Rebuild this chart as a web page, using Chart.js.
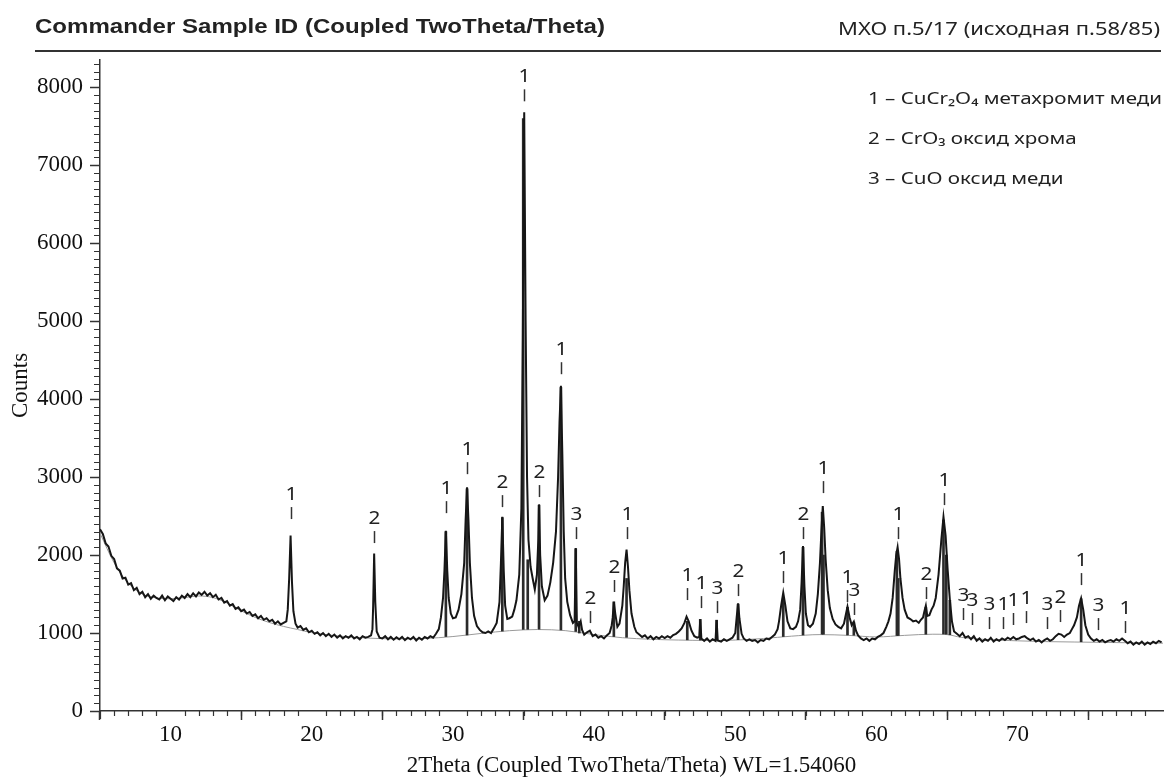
<!DOCTYPE html>
<html>
<head>
<meta charset="utf-8">
<title>XRD pattern</title>
<script src="https://cdn.jsdelivr.net/npm/chart.js@4.4.1/dist/chart.umd.min.js"></script>
<style>
  html, body { margin: 0; padding: 0; background: #fff; }
  canvas { display: block; }
</style>
</head>
<body>
<canvas id="xrdChart" width="1166" height="781"></canvas>
<script>
const scan05to28 = [
  [5.0,2330],[5.2,2270],[5.4,2150],[5.6,2110],[5.8,1990],[6.0,1950],[6.2,1830],[6.4,1800],[6.6,1700],[6.8,1710],
  [7.0,1620],[7.2,1640],[7.4,1550],[7.6,1580],[7.8,1500],[8.0,1530],[8.2,1460],[8.4,1500],[8.6,1440],[8.8,1480],
  [9.0,1450],[9.2,1430],[9.4,1480],[9.6,1420],[9.8,1470],[10.0,1440],[10.2,1410],[10.4,1460],[10.6,1430],[10.8,1480],
  [11.0,1450],[11.2,1500],[11.4,1460],[11.6,1510],[11.8,1470],[12.0,1520],[12.2,1490],[12.4,1530],[12.6,1480],[12.8,1510],
  [13.0,1460],[13.2,1490],[13.4,1430],[13.6,1450],[13.8,1390],[14.0,1410],[14.2,1350],[14.4,1370],[14.6,1310],[14.8,1330],
  [15.0,1280],[15.2,1300],[15.4,1250],[15.6,1270],[15.8,1220],[16.0,1240],[16.2,1190],[16.4,1220],[16.6,1170],[16.8,1190],
  [17.0,1150],[17.2,1170],[17.4,1120],[17.6,1150],[17.8,1110],[18.0,1130],[18.2,1150],[18.3,1300],[18.4,1700],[18.5,2250],
  [18.6,1650],[18.7,1280],[18.85,1120],[19.0,1070],[19.2,1090],[19.4,1040],[19.6,1060],[19.8,1010],[20.0,1030],[20.2,990],
  [20.4,1010],[20.6,970],[20.8,1000],[21.0,960],[21.2,990],[21.4,950],[21.6,980],[21.8,940],[22.0,970],[22.2,930],
  [22.4,960],[22.6,940],[22.8,970],[23.0,930],[23.2,950],[23.4,920],[23.6,960],[23.8,940],[24.0,950],[24.2,970],
  [24.3,1050],[24.35,1350],[24.42,2020],[24.5,1400],[24.6,1020],[24.8,940],[25.0,930],[25.2,960],[25.4,920],[25.6,950],
  [25.8,915],[26.0,945],[26.2,920],[26.4,950],[26.6,910],[26.8,940],[27.0,920],[27.2,950],[27.4,905],[27.6,940],[27.8,915]
];

const scan28to45 = [
  [28.0,950],[28.2,930],[28.4,960],[28.6,940],[28.8,990],[29.0,1050],[29.15,1200],[29.3,1450],[29.4,1800],[29.5,2310],
  [29.6,1800],[29.7,1450],[29.85,1250],[30.0,1190],[30.2,1200],[30.4,1300],[30.6,1500],[30.8,1900],[30.9,2450],[31.0,2870],
  [31.1,2450],[31.2,1900],[31.35,1450],[31.5,1220],[31.7,1090],[31.9,1040],[32.1,1010],[32.3,1000],[32.5,1020],[32.7,1000],
  [32.9,1060],[33.1,1130],[33.3,1400],[33.4,1900],[33.5,2490],[33.6,1800],[33.7,1350],[33.85,1180],[34.0,1190],[34.2,1210],
  [34.35,1300],[34.5,1420],[34.7,1750],[34.85,2600],[34.95,4800],[35.05,7680],[35.15,5000],[35.25,3000],[35.35,2200],[35.5,1850],
  [35.65,1700],[35.8,1560],[35.95,1750],[36.05,2200],[36.1,2650],[36.18,2000],[36.3,1600],[36.5,1420],[36.7,1480],[36.9,1650],
  [37.1,1900],[37.3,2300],[37.45,3000],[37.55,3700],[37.65,4170],[37.75,3300],[37.85,2300],[37.95,1700],[38.1,1400],[38.3,1230],
  [38.5,1130],[38.62,1150],[38.7,2090],[38.78,1130],[38.9,1080],[39.05,1150],[39.15,1040],[39.3,980],[39.5,1010],[39.7,1030],
  [39.9,960],[40.1,980],[40.3,940],[40.5,960],[40.7,930],[40.9,970],[41.1,1000],[41.25,1100],[41.32,1200],[41.4,1400],
  [41.5,1250],[41.65,1080],[41.8,1120],[42.0,1350],[42.1,1600],[42.2,1900],[42.3,2070],[42.4,1850],[42.5,1550],[42.65,1250],
  [42.85,1080],[43.0,1010],[43.2,980],[43.4,950],[43.6,970],[43.8,930],[44.0,960],[44.2,920],[44.4,950],[44.6,930],[44.8,960]
];

const scan45to66 = [
  [45.0,935],[45.2,960],[45.4,940],[45.6,975],[45.8,990],[46.0,1020],[46.2,1060],[46.4,1130],[46.55,1210],[46.7,1150],
  [46.9,1030],[47.1,960],[47.3,940],[47.45,950],[47.52,1175],[47.6,930],[47.8,900],[48.0,930],[48.2,890],[48.4,920],
  [48.6,900],[48.68,1167],[48.76,905],[49.0,890],[49.2,920],[49.4,900],[49.6,920],[49.8,940],[50.0,1000],[50.1,1200],
  [50.2,1380],[50.3,1180],[50.45,990],[50.6,930],[50.8,900],[51.0,920],[51.2,900],[51.4,910],[51.6,880],[51.8,910],
  [52.0,900],[52.2,930],[52.4,920],[52.6,950],[52.8,980],[53.0,1050],[53.1,1150],[53.25,1350],[53.4,1517],[53.55,1350],
  [53.7,1150],[53.9,1060],[54.1,1050],[54.3,1080],[54.45,1150],[54.6,1300],[54.7,1650],[54.8,2115],[54.9,1600],[55.0,1250],
  [55.15,1100],[55.3,1080],[55.5,1120],[55.7,1250],[55.85,1500],[56.0,1900],[56.1,2300],[56.2,2630],[56.3,2350],[56.4,1950],
  [56.55,1550],[56.7,1320],[56.9,1180],[57.1,1110],[57.3,1080],[57.5,1060],[57.7,1120],[57.85,1250],[57.95,1337],[58.1,1200],
  [58.25,1100],[58.4,1145],[58.55,1030],[58.7,970],[58.9,930],[59.1,910],[59.3,930],[59.5,900],[59.7,930],[59.9,920],
  [60.1,950],[60.3,970],[60.5,1000],[60.7,1080],[60.85,1150],[61.0,1250],[61.15,1450],[61.3,1800],[61.4,2000],[61.5,2100],
  [61.6,1950],[61.7,1700],[61.85,1450],[62.0,1300],[62.2,1200],[62.4,1180],[62.6,1150],[62.8,1160],[63.0,1130],[63.15,1170],
  [63.3,1200],[63.4,1280],[63.5,1350],[63.6,1220],[63.75,1230],[63.9,1300],[64.05,1350],[64.2,1450],[64.4,1750],[64.6,2200],
  [64.75,2490],[64.9,2250],[65.05,1800],[65.2,1430],[65.35,1150],[65.5,1020],[65.7,990],[65.9,960]
];

const scan66to80 = [
  [66.1,1000],[66.3,940],[66.5,960],[66.7,920],[66.9,960],[67.1,900],[67.3,930],[67.5,890],[67.7,920],[67.9,900],
  [68.1,940],[68.3,890],[68.5,920],[68.7,900],[68.9,930],[69.1,910],[69.3,940],[69.5,920],[69.7,950],[69.9,920],
  [70.1,930],[70.3,950],[70.5,960],[70.7,930],[70.9,910],[71.1,930],[71.3,890],[71.5,910],[71.7,880],[71.9,910],
  [72.1,930],[72.3,900],[72.5,920],[72.7,960],[72.9,990],[73.1,980],[73.3,950],[73.5,980],[73.7,1000],[73.85,1050],
  [74.0,1100],[74.2,1200],[74.35,1350],[74.5,1445],[74.65,1300],[74.8,1100],[75.0,980],[75.2,930],[75.4,900],[75.6,920],
  [75.8,890],[76.0,910],[76.2,880],[76.4,900],[76.6,910],[76.8,890],[77.0,920],[77.2,900],[77.4,930],[77.6,900],
  [77.8,870],[78.0,890],[78.2,850],[78.4,880],[78.6,860],[78.8,890],[79.0,850],[79.2,880],[79.4,860],[79.6,890],
  [79.8,870],[80.0,900],[80.2,880]
];

// Fitted background (thin grey curve)
const bgAngles = [5, 6, 7, 8, 9, 10, 11, 12, 13, 14, 15, 16, 17, 18, 19, 20, 22, 24, 26, 28, 30, 32, 34, 36, 38, 40,
  42, 44, 46, 48, 50, 52, 54, 56, 58, 60, 62, 64, 65, 66, 68, 70, 72, 74, 76, 78, 80.3];
const bgCounts = [2280, 1900, 1640, 1500, 1450, 1440, 1455, 1475, 1455, 1385, 1285, 1200, 1135, 1085, 1045, 1005, 960,
  935, 925, 930, 955, 995, 1030, 1045, 1030, 980, 940, 920, 910, 905, 910, 930, 960, 980, 970, 950, 970, 985, 980, 945,
  915, 900, 890, 885, 880, 875, 870];

// Peak sticks from the profile fit
const stickAngles = [29.5, 31.0, 33.5, 34.98, 35.3, 36.1, 37.65, 38.7, 38.95, 41.4, 42.3, 46.6, 47.52, 48.68, 50.2,
  53.4, 54.8, 56.15, 56.25, 57.95, 58.4, 61.45, 61.55, 63.5, 64.75, 64.95, 65.2, 74.5];
const stickBases = [955, 975, 1025, 1045, 1048, 1050, 1040, 1020, 1000, 955, 945, 913, 910, 910, 915, 955, 975, 985,
  985, 975, 972, 968, 968, 985, 988, 985, 978, 888];
const stickTops = [2300, 2850, 2480, 7600, 1940, 2640, 4150, 2080, 1150, 1400, 1700, 1150, 1175, 1165, 1370, 1450,
  2100, 2550, 2000, 1330, 1140, 2050, 1700, 1330, 2450, 2000, 1420, 1440];

// Phase labels: position, phase number, height of the marker's lower end
const peakAngles = [18.5, 24.4, 29.54, 31.0, 33.5, 35.07, 36.1, 37.65, 38.7, 39.7, 41.4, 42.3, 46.6, 47.54, 48.7,
  50.2, 53.4, 54.8, 56.2, 57.95, 58.4, 61.5, 63.5, 64.8, 66.1, 66.8, 68.0, 69.0, 69.7, 70.6, 72.1, 73.0, 74.5, 75.7, 77.6];
const peakPhases = ['1', '2', '1', '1', '2', '1', '2', '1', '3', '2', '2', '1', '1', '1', '3',
  '2', '1', '2', '1', '1', '3', '1', '2', '1', '3', '3', '3', '1', '1', '1', '3', '2', '1', '3', '1'];
const peakMarkTops = [2462, 2154, 2538, 3038, 2615, 7820, 2744, 4320, 2205, 1128, 1526, 2205, 1423, 1320, 1256,
  1474, 1641, 2205, 2795, 1397, 1231, 2205, 1436, 2641, 1167, 1103, 1051, 1051, 1103, 1128, 1051, 1141, 1615, 1038, 1000];

const legendLines = [
  '1 – CuCr₂O₄ метахромит меди',
  '2 – CrO₃ оксид хрома',
  '3 – CuO оксид меди'
];

const xTickValues = [10, 20, 30, 40, 50, 60, 70];
const yTickValues = [0, 1000, 2000, 3000, 4000, 5000, 6000, 7000, 8000];

const serif = '"Liberation Serif", "Times New Roman", serif';
const sans = '"Noto Sans", "Open Sans", sans-serif';

const scanPoints = [...scan05to28, ...scan28to45, ...scan45to66, ...scan66to80].map(([x, y]) => ({ x, y }));
const bgPoints = bgAngles.map((x, i) => ({ x, y: bgCounts[i] }));
const stickPoints = stickAngles.map((x, i) => ({ x, y: [stickBases[i], stickTops[i]] }));

// The sans captions in the source are set wider than the fonts we have, so squeeze/stretch to width
function fillStretched(ctx, text, x, y, scaleX, align) {
  ctx.save();
  ctx.translate(x, y);
  ctx.scale(scaleX, 1);
  ctx.textAlign = align;
  ctx.fillText(text, 0, 0);
  ctx.restore();
}

const minorTicks = {
  id: 'minorTicks',
  afterDraw(chart) {
    const { ctx, chartArea, scales: { x, y } } = chart;
    ctx.save();
    ctx.strokeStyle = '#333';
    ctx.lineWidth = 1.2;
    ctx.beginPath();
    for (let v = 5; v <= 80; v += 1) {
      if (v % 10 === 0) continue;
      const px = Math.round(x.getPixelForValue(v)) + 0.5;
      ctx.moveTo(px, chartArea.bottom);
      ctx.lineTo(px, chartArea.bottom + (v === 5 ? 8 : 5));
    }
    for (let v = 100; v <= 8300; v += 100) {
      if (v % 1000 === 0) continue;
      const py = Math.round(y.getPixelForValue(v)) + 0.5;
      ctx.moveTo(chartArea.left, py);
      ctx.lineTo(chartArea.left - 6, py);
    }
    ctx.stroke();
    ctx.restore();
  }
};

const peakMarks = {
  id: 'peakMarks',
  afterDatasetsDraw(chart) {
    const { ctx, scales: { x, y } } = chart;
    ctx.save();
    ctx.strokeStyle = '#333';
    ctx.lineWidth = 1.5;
    ctx.fillStyle = '#222';
    ctx.font = '18px ' + sans;
    ctx.textBaseline = 'alphabetic';
    peakAngles.forEach((angle, i) => {
      const px = Math.round(x.getPixelForValue(angle)) + 0.5;
      const py = y.getPixelForValue(peakMarkTops[i]);
      ctx.beginPath();
      ctx.moveTo(px, py);
      ctx.lineTo(px, py - 12);
      ctx.stroke();
      fillStretched(ctx, peakPhases[i], px, py - 19, 1.15, 'center');
    });
    ctx.restore();
  }
};

const header = {
  id: 'header',
  afterDraw(chart) {
    const { ctx } = chart;
    ctx.save();
    ctx.fillStyle = '#222';
    ctx.textBaseline = 'alphabetic';

    const title = 'Commander Sample ID (Coupled TwoTheta/Theta)';
    ctx.font = 'bold 21px "Liberation Sans", Arial, sans-serif';
    fillStretched(ctx, title, 35, 33, 570 / ctx.measureText(title).width, 'left');

    const sampleNote = 'МХО п.5/17 (исходная п.58/85)';
    ctx.font = '18px ' + sans;
    fillStretched(ctx, sampleNote, 1160, 35, 322 / ctx.measureText(sampleNote).width, 'right');

    ctx.strokeStyle = '#333';
    ctx.lineWidth = 2;
    ctx.beginPath();
    ctx.moveTo(35, 51);
    ctx.lineTo(1161, 51);
    ctx.stroke();

    ctx.font = '17px ' + sans;
    const legendScale = 294 / ctx.measureText(legendLines[0]).width;
    legendLines.forEach((line, i) => {
      fillStretched(ctx, line, 868, 104 + i * 40, legendScale, 'left');
    });
    ctx.restore();
  }
};

new Chart(document.getElementById('xrdChart'), {
  type: 'line',
  data: {
    datasets: [
      {
        label: 'Scan',
        data: scanPoints,
        borderColor: '#161616',
        borderWidth: 2,
        pointRadius: 0,
        tension: 0,
        order: 1
      },
      {
        type: 'bar',
        label: 'Sticks',
        data: stickPoints,
        backgroundColor: '#2a2a2a',
        barThickness: 2,
        grouped: false,
        order: 2
      },
      {
        label: 'Background',
        data: bgPoints,
        borderColor: '#9a9a9a',
        borderWidth: 1,
        pointRadius: 0,
        cubicInterpolationMode: 'monotone',
        order: 3
      }
    ]
  },
  options: {
    responsive: false,
    devicePixelRatio: 1,
    animation: false,
    layout: { padding: { left: 0, top: 60, right: 3, bottom: 0 } },
    plugins: {
      legend: { display: false },
      tooltip: { enabled: false }
    },
    scales: {
      x: {
        type: 'linear',
        min: 5,
        max: 80.3,
        offset: false,
        afterBuildTicks: (scale) => {
          scale.ticks = xTickValues.map((value) => ({ value }));
        },
        afterFit: (scale) => {
          scale.height = 70;
        },
        ticks: {
          font: { family: serif, size: 23 },
          color: '#111',
          padding: 1,
          maxRotation: 0,
          callback: (value) => String(value)
        },
        grid: {
          drawOnChartArea: false,
          tickLength: 9,
          tickColor: '#333',
          tickWidth: 1.5
        },
        border: { color: '#333', width: 1.5 },
        title: {
          display: true,
          text: '2Theta (Coupled TwoTheta/Theta) WL=1.54060',
          font: { family: serif, size: 23 },
          color: '#111',
          padding: { top: 0, bottom: 1 }
        }
      },
      y: {
        min: 0,
        max: 8350,
        afterBuildTicks: (scale) => {
          scale.ticks = yTickValues.map((value) => ({ value }));
        },
        afterFit: (scale) => {
          scale.width = 100;
        },
        ticks: {
          font: { family: serif, size: 23 },
          color: '#111',
          padding: 7,
          callback: (value) => String(value)
        },
        grid: {
          drawOnChartArea: false,
          tickLength: 10,
          tickColor: '#333',
          tickWidth: 1.5
        },
        border: { color: '#333', width: 1.5 },
        title: {
          display: true,
          text: 'Counts',
          font: { family: serif, size: 23 },
          color: '#111',
          padding: { top: 7, bottom: 0 }
        }
      }
    }
  },
  plugins: [minorTicks, peakMarks, header]
});
</script>
</body>
</html>
